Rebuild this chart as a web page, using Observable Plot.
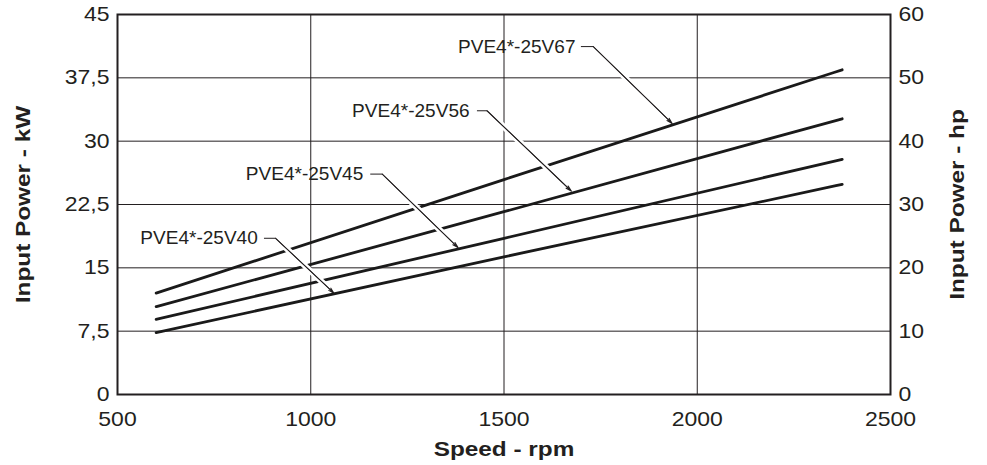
<!DOCTYPE html>
<html><head><meta charset="utf-8">
<script src="https://cdn.jsdelivr.net/npm/d3@7"></script>
<script src="https://cdn.jsdelivr.net/npm/@observablehq/plot@0.6"></script>
<style>
body{margin:0;background:#fff}
svg{font-family:"Liberation Sans",Arial,Helvetica,sans-serif}
</style></head><body><div id="chart"></div>
<script>
// Data
const series = ["PVE4*-25V67","PVE4*-25V56","PVE4*-25V45","PVE4*-25V40"];
const speeds = [600, 1500, 2375];
const v67 = [12.0, 25.45, 38.45];
const v56 = [10.4, 21.65, 32.65];
const v45 = [8.9, 18.5, 27.85];
const v40 = [7.33, 16.3, 24.88];
const values = [v67, v56, v45, v40];
const kwTicks = [0, 7.5, 15, 22.5, 30, 37.5, 45];
const hpTicks = [0, 10, 20, 30, 40, 50, 60];
const rpmTicks = [500, 1000, 1500, 2000, 2500];
const axisTitles = ["Speed - rpm", "Input Power - kW", "Input Power - hp"];
// Annotation anchors (data coordinates: rpm, kW)
const labelX = [1685, 1411, 1136, 863];
const labelY = [41.2, 33.6, 26.1, 18.5];
const leaderStartX = [1700, 1431, 1155, 880];
const leaderBendX = [1731, 1456, 1185, 909];
const tipX = [1935, 1674, 1381, 1060];
const tipY = [32.1, 24.1, 17.4, 12.0];

const kwMax = kwTicks[kwTicks.length - 1], hpMax = hpTicks[hpTicks.length - 1];
const rows = series.flatMap((s, i) => speeds.map((x, j) => ({s, x, y: values[i][j]})));
const labels = series.map((s, i) => ({s, x: labelX[i], y: labelY[i]}));
const leader = series.flatMap((s, i) => [
  {s, x: leaderStartX[i], y: labelY[i]},
  {s, x: leaderBendX[i], y: labelY[i]},
  {s, x: tipX[i], y: tipY[i]}
]);
const halo = series.flatMap((s, i) => [
  {s, x: leaderStartX[i], y: labelY[i]},
  {s, x: leaderBendX[i], y: labelY[i]},
  {s, x: leaderBendX[i] + 0.85 * (tipX[i] - leaderBendX[i]), y: labelY[i] + 0.85 * (tipY[i] - labelY[i])}
]);
const arrows = series.map((s, i) => ({x1: leaderBendX[i], y1: labelY[i], x2: tipX[i], y2: tipY[i]}));

const ink = "#231f20";
const chart = Plot.plot({
  width: 987, height: 465,
  marginLeft: 117, marginRight: 97, marginTop: 14, marginBottom: 71,
  x: {domain: [rpmTicks[0], rpmTicks[rpmTicks.length - 1]]},
  y: {domain: [0, kwMax]},
  style: {fontFamily: '"Liberation Sans", Arial, Helvetica, sans-serif', color: ink, background: "#fff", overflow: "visible"},
  marks: [
    Plot.gridX(rpmTicks.slice(1, -1), {stroke: ink, strokeOpacity: 1, strokeWidth: 1}),
    Plot.gridY(kwTicks.slice(1, -1), {stroke: ink, strokeOpacity: 1, strokeWidth: 1}),
    Plot.line(rows, {x: "x", y: "y", z: "s", stroke: "#1a1a1a", strokeWidth: 2.8, curve: "monotone-x"}),
    Plot.line(halo, {x: "x", y: "y", z: "s", stroke: "#fff", strokeWidth: 6}),
    Plot.line(leader, {x: "x", y: "y", z: "s", stroke: ink, strokeWidth: 1}),
    Plot.arrow(arrows, {x1: "x1", y1: "y1", x2: "x2", y2: "y2", stroke: ink, strokeWidth: 1.1, headLength: 8, headAngle: 30}),
    Plot.text(labels, {x: "x", y: "y", text: "s", textAnchor: "end", fontSize: 18.5, fill: ink}),
    Plot.frame({stroke: ink, strokeWidth: 2}),
    Plot.axisX(rpmTicks, {tickSize: 0, tickPadding: 17, fontSize: 20, label: null, tickFormat: d => String(d)}),
    Plot.axisY(kwTicks, {anchor: "left", tickSize: 0, tickPadding: 8, fontSize: 20, label: null,
      tickFormat: d => String(d).replace(".", ",")}),
    Plot.axisY(hpTicks.map(h => h * kwMax / hpMax), {anchor: "right", tickSize: 0, tickPadding: 8, fontSize: 20, label: null,
      tickFormat: d => String(Math.round(d * hpMax / kwMax))}),
    Plot.text([axisTitles[0]], {frameAnchor: "bottom", textAnchor: "middle", lineAnchor: "middle", dy: 55, fontSize: 21, fontWeight: "bold", fill: ink}),
    Plot.text([axisTitles[1]], {frameAnchor: "left", textAnchor: "middle", lineAnchor: "middle", rotate: -90, dx: -94, fontSize: 21, fontWeight: "bold", fill: ink}),
    Plot.text([axisTitles[2]], {frameAnchor: "right", textAnchor: "middle", lineAnchor: "middle", rotate: -90, dx: 67, fontSize: 21, fontWeight: "bold", fill: ink})
  ]
});
document.getElementById("chart").appendChild(chart);
// the reference type is set slightly wide: stretch glyphs along the baseline about their anchor
d3.select(chart).selectAll("text").each(function() {
  const t = this.textContent;
  let sx = null;
  if (axisTitles.includes(t)) sx = 1.16;
  else if (series.includes(t)) sx = 1.03;
  else {
    const g = this.closest("g[aria-label]");
    if (g && g.getAttribute("aria-label").indexOf("tick") >= 0) sx = 1.15;
  }
  if (!sx || this.hasAttribute("x")) return;
  const tr = this.getAttribute("transform") || "";
  this.setAttribute("transform", `${tr} scale(${sx},1)`);
});
</script></body></html>
